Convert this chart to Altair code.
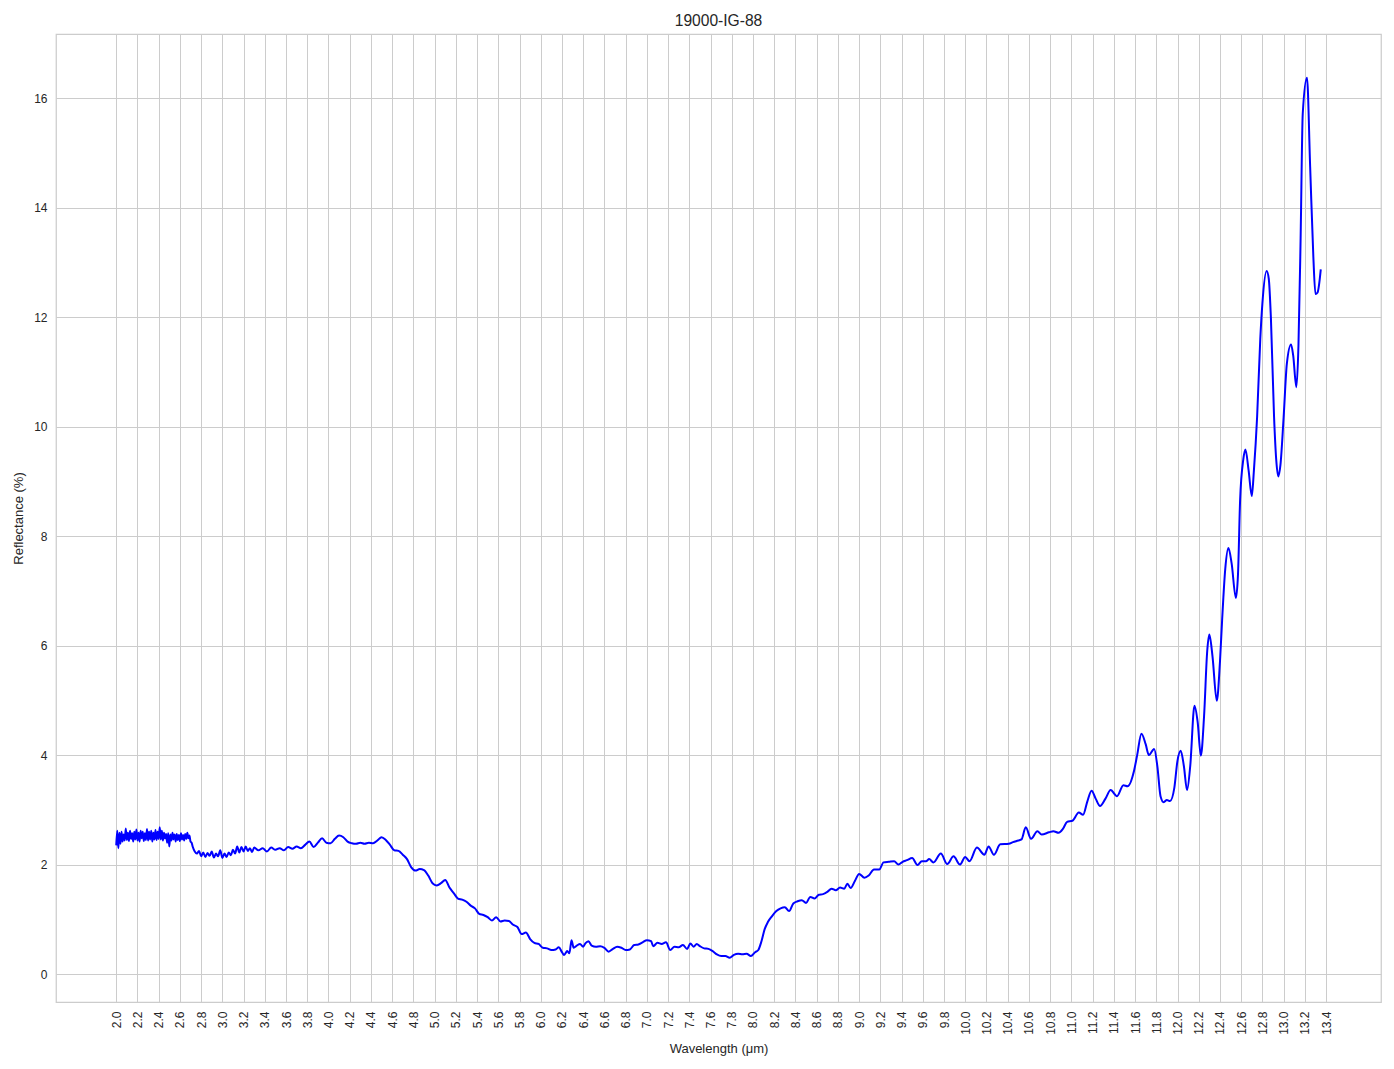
import altair as alt
import pandas as pd

# ---- data ----
wl_start = [2.00, 2.01, 2.02, 2.03, 2.04, 2.05, 2.06, 2.07, 2.08, 2.09,
            2.10, 2.11, 2.12, 2.13, 2.14, 2.15, 2.16, 2.17, 2.18, 2.19,
            2.20, 2.21, 2.22, 2.23, 2.24, 2.25, 2.26, 2.27, 2.28, 2.29,
            2.30, 2.31, 2.32, 2.33, 2.34, 2.35, 2.36, 2.37, 2.38, 2.39,
            2.40, 2.41, 2.42, 2.43, 2.44, 2.45, 2.46, 2.47, 2.48, 2.49,
            2.50, 2.51, 2.52, 2.53, 2.54, 2.55, 2.56, 2.57, 2.58, 2.59,
            2.60, 2.61, 2.62, 2.63, 2.64, 2.65, 2.66, 2.67, 2.68, 2.69,
            2.70, 2.71, 2.72]
refl_start = [2.35, 2.62, 2.30, 2.58, 2.38, 2.60, 2.42, 2.55, 2.44, 2.66,
              2.45, 2.58, 2.43, 2.62, 2.47, 2.57, 2.42, 2.60, 2.46, 2.64,
              2.44, 2.58, 2.42, 2.62, 2.48, 2.60, 2.43, 2.57, 2.45, 2.65,
              2.44, 2.60, 2.46, 2.62, 2.42, 2.58, 2.46, 2.63, 2.45, 2.60,
              2.47, 2.68, 2.46, 2.62, 2.44, 2.58, 2.48, 2.56, 2.40, 2.57,
              2.33, 2.55, 2.44, 2.58, 2.46, 2.55, 2.42, 2.56, 2.45, 2.54,
              2.43, 2.57, 2.46, 2.54, 2.44, 2.56, 2.47, 2.58, 2.48, 2.53,
              2.42, 2.40, 2.33]

wl_mid = [2.74, 2.76, 2.78, 2.80, 2.82, 2.84, 2.86, 2.88, 2.90, 2.92,
          2.94, 2.96, 2.98, 3.00, 3.02, 3.04, 3.06, 3.08, 3.10, 3.12,
          3.14, 3.16, 3.18, 3.20, 3.22, 3.24, 3.26, 3.28, 3.30,
          3.34, 3.38, 3.42, 3.46, 3.50, 3.54, 3.58, 3.62, 3.66, 3.70,
          3.74, 3.78, 3.82, 3.86, 3.90, 3.94, 3.98, 4.02, 4.06, 4.10,
          4.14, 4.18, 4.22, 4.26, 4.30, 4.34, 4.38, 4.42, 4.46, 4.50,
          4.54, 4.58, 4.62, 4.66, 4.70, 4.74, 4.78, 4.82, 4.86, 4.90,
          4.94, 4.98, 5.02, 5.06, 5.10, 5.14, 5.18, 5.22, 5.26, 5.30,
          5.34, 5.38, 5.42, 5.46, 5.50, 5.54, 5.58, 5.62, 5.66, 5.70,
          5.74, 5.78, 5.82, 5.86, 5.90, 5.94, 5.98]
refl_mid = [2.24, 2.20, 2.25, 2.15, 2.22, 2.14, 2.21, 2.16, 2.24, 2.13,
            2.20, 2.15, 2.26, 2.12, 2.20, 2.14, 2.22, 2.17, 2.27, 2.20,
            2.33, 2.22, 2.32, 2.24, 2.33, 2.25, 2.30, 2.23, 2.31,
            2.26, 2.30, 2.24, 2.31, 2.27, 2.30, 2.26, 2.32, 2.29, 2.33,
            2.30, 2.36, 2.42, 2.32, 2.40, 2.48, 2.40, 2.39, 2.47, 2.53,
            2.50, 2.42, 2.39, 2.38, 2.40, 2.38, 2.40, 2.39, 2.44, 2.50,
            2.45, 2.36, 2.26, 2.25, 2.18, 2.10, 1.95, 1.89, 1.92, 1.90,
            1.80, 1.66, 1.62, 1.66, 1.72, 1.58, 1.48, 1.38, 1.36, 1.32,
            1.25, 1.20, 1.10, 1.08, 1.04, 0.98, 1.04, 0.96, 0.98, 0.97,
            0.90, 0.86, 0.73, 0.76, 0.64, 0.57, 0.55]

wl_low = [6.02, 6.06, 6.10, 6.14, 6.17, 6.20, 6.22, 6.25, 6.27, 6.29,
          6.31, 6.34, 6.37, 6.40, 6.42, 6.45, 6.48, 6.52, 6.56, 6.60,
          6.64, 6.68, 6.72, 6.76, 6.80, 6.84, 6.88, 6.92, 6.96, 7.00,
          7.04, 7.06, 7.10, 7.14, 7.18, 7.22, 7.26, 7.30, 7.34, 7.38,
          7.41, 7.44, 7.47, 7.50, 7.54, 7.58, 7.62, 7.66, 7.70, 7.74,
          7.78, 7.82, 7.86, 7.90, 7.94, 7.98, 8.02, 8.05]
refl_low = [0.48, 0.47, 0.44, 0.45, 0.49, 0.40, 0.35, 0.42, 0.38, 0.62,
            0.48, 0.52, 0.55, 0.50, 0.56, 0.60, 0.52, 0.50, 0.51, 0.48,
            0.41, 0.46, 0.50, 0.48, 0.44, 0.45, 0.53, 0.54, 0.58, 0.62,
            0.60, 0.51, 0.57, 0.55, 0.58, 0.44, 0.50, 0.49, 0.53, 0.46,
            0.56, 0.50, 0.55, 0.51, 0.47, 0.46, 0.42, 0.36, 0.33, 0.33,
            0.30, 0.35, 0.37, 0.36, 0.37, 0.33, 0.40, 0.44]

wl_rise = [8.08, 8.11, 8.14, 8.18, 8.22, 8.26, 8.30, 8.34, 8.38, 8.42,
           8.46, 8.50, 8.54, 8.58, 8.62, 8.66, 8.70, 8.74, 8.78, 8.82,
           8.86, 8.89, 8.92, 8.96, 9.00, 9.05, 9.09, 9.14, 9.19, 9.23,
           9.28, 9.33, 9.37, 9.41, 9.45, 9.50, 9.55, 9.59, 9.63, 9.66,
           9.70, 9.77, 9.83, 9.89, 9.95, 10.00, 10.04, 10.11, 10.18, 10.22,
           10.27, 10.33, 10.41, 10.45, 10.50, 10.53, 10.57, 10.62, 10.68, 10.72,
           10.79, 10.83, 10.88, 10.92, 10.96, 11.01, 11.07, 11.11]
refl_rise = [0.60, 0.82, 0.95, 1.06, 1.15, 1.20, 1.22, 1.15, 1.29, 1.33,
             1.35, 1.30, 1.41, 1.38, 1.45, 1.46, 1.50, 1.56, 1.53, 1.58,
             1.56, 1.65, 1.57, 1.70, 1.83, 1.76, 1.80, 1.91, 1.91, 2.04,
             2.05, 2.06, 2.00, 2.05, 2.08, 2.12, 1.99, 2.06, 2.06, 2.10,
             2.04, 2.20, 2.01, 2.15, 2.00, 2.14, 2.06, 2.31, 2.18, 2.33,
             2.18, 2.37, 2.38, 2.41, 2.44, 2.46, 2.68, 2.47, 2.61, 2.55,
             2.59, 2.61, 2.58, 2.65, 2.78, 2.80, 2.95, 2.91]

wl_end = [11.15, 11.19, 11.23, 11.27, 11.32, 11.37, 11.43, 11.49, 11.53, 11.59,
          11.62, 11.66, 11.70, 11.73, 11.78, 11.81, 11.84, 11.87, 11.90, 11.93,
          11.97, 12.00, 12.03, 12.06, 12.09, 12.12, 12.16, 12.19, 12.22, 12.25,
          12.28, 12.30, 12.33, 12.37, 12.40, 12.42, 12.45, 12.48, 12.51, 12.55,
          12.57, 12.59, 12.62, 12.64, 12.67, 12.70, 12.72, 12.75, 12.78, 12.80,
          12.84, 12.86, 12.88, 12.91, 12.93, 12.95, 12.97, 13.00, 13.03, 13.07,
          13.09, 13.12, 13.14, 13.16, 13.18, 13.22, 13.25, 13.28, 13.30, 13.32,
          13.35]
refl_end = [3.15, 3.35, 3.20, 3.07, 3.20, 3.36, 3.25, 3.45, 3.43, 3.71,
            4.00, 4.39, 4.20, 4.00, 4.11, 3.80, 3.25, 3.14, 3.18, 3.16,
            3.40, 3.90, 4.08, 3.80, 3.36, 3.80, 4.90, 4.60, 3.99, 4.70,
            5.90, 6.20, 5.80, 4.99, 5.70, 6.45, 7.40, 7.78, 7.50, 6.87,
            7.30, 8.66, 9.40, 9.58, 9.20, 8.73, 9.20, 10.17, 11.60, 12.25,
            12.84, 12.70, 11.99, 10.17, 9.40, 9.09, 9.30, 10.17, 11.14, 11.50,
            11.30, 10.72, 11.50, 13.43, 15.71, 16.37, 14.74, 13.10, 12.42, 12.45,
            12.87]

x_ticks = [2.0, 2.2, 2.4, 2.6, 2.8, 3.0, 3.2, 3.4, 3.6, 3.8, 4.0, 4.2, 4.4,
           4.6, 4.8, 5.0, 5.2, 5.4, 5.6, 5.8, 6.0, 6.2, 6.4, 6.6, 6.8, 7.0,
           7.2, 7.4, 7.6, 7.8, 8.0, 8.2, 8.4, 8.6, 8.8, 9.0, 9.2, 9.4, 9.6,
           9.8, 10.0, 10.2, 10.4, 10.6, 10.8, 11.0, 11.2, 11.4, 11.6, 11.8,
           12.0, 12.2, 12.4, 12.6, 12.8, 13.0, 13.2, 13.4]
y_ticks = [0, 2, 4, 6, 8, 10, 12, 14, 16]

wl = wl_start + wl_mid + wl_low + wl_rise + wl_end
refl = refl_start + refl_mid + refl_low + refl_rise + refl_end
df = pd.DataFrame({"wl": wl, "refl": refl})

TXT = "#262626"
GRID = "#cccccc"
FONT = "Liberation Sans"

chart = alt.Chart(df).mark_line(
    color="#0000ff", strokeWidth=2, interpolate="monotone"
).encode(
    x=alt.X("wl:Q",
            scale=alt.Scale(domain=[1.4325, 13.9175], nice=False, zero=False),
            axis=alt.Axis(values=x_ticks, format=".1f", labelAngle=270,
                          title="Wavelength (μm)", labelPadding=9,
                          titlePadding=8)),
    y=alt.Y("refl:Q",
            scale=alt.Scale(domain=[-0.51, 17.17], nice=False, zero=False),
            axis=alt.Axis(values=y_ticks, format="d",
                          title="Reflectance (%)", labelPadding=9,
                          titlePadding=8)),
).properties(
    width=1325, height=968,
    title=alt.TitleParams("19000-IG-88", fontSize=15.6, fontWeight="normal",
                          color=TXT, font=FONT, offset=4),
    autosize=alt.AutoSizeParams(type="none"),
    padding={"left": 48, "top": 26, "right": 5, "bottom": 58},
).configure_view(
    stroke=GRID, strokeWidth=1.25
).configure_axis(
    grid=True, gridColor=GRID, gridWidth=1, domain=False, ticks=False,
    labelFont=FONT, labelFontSize=12, labelColor=TXT,
    titleFont=FONT, titleFontSize=13, titleFontWeight="normal", titleColor=TXT,
)

chart.save("out.html", embed_options={"renderer": "svg", "actions": False})
